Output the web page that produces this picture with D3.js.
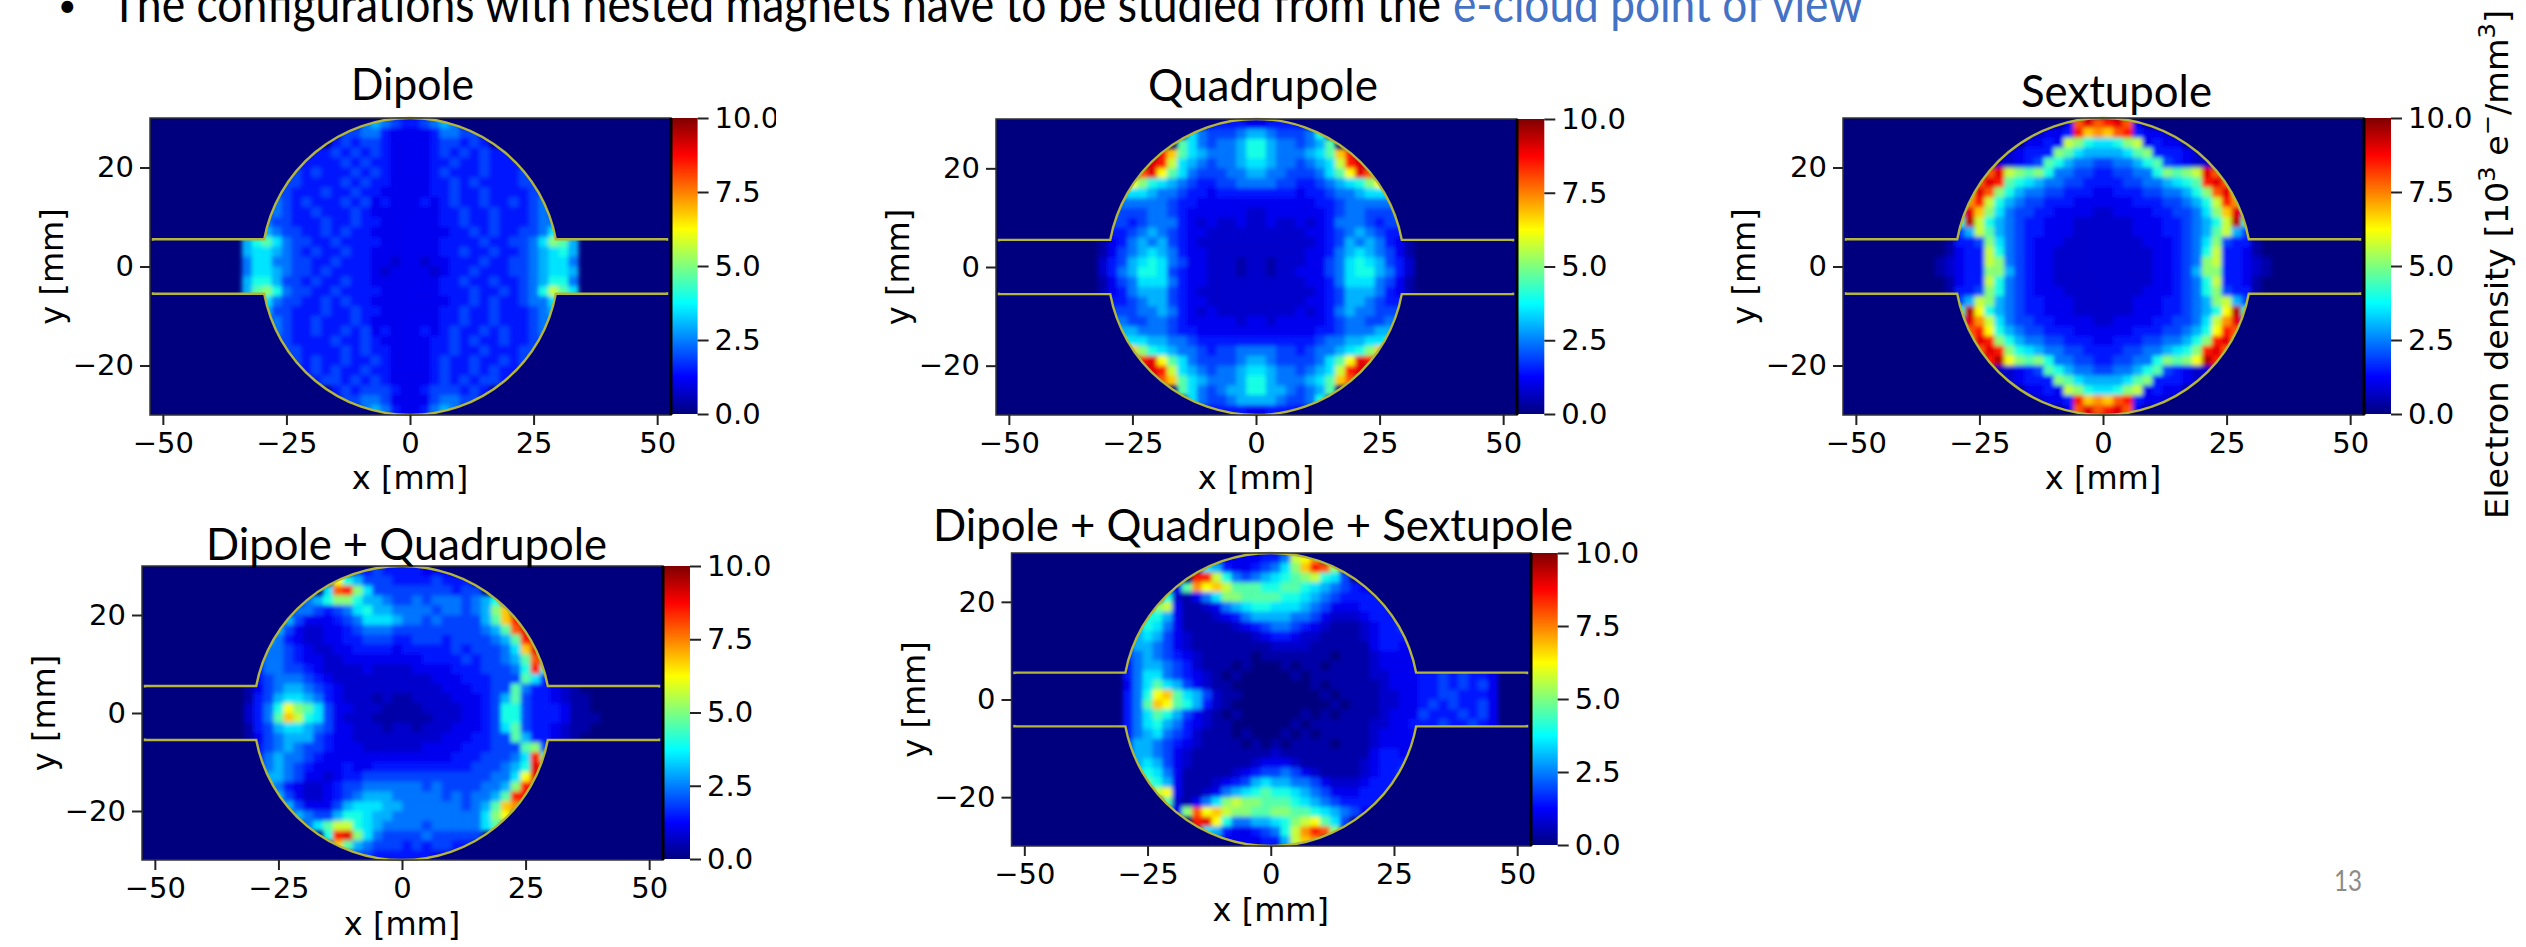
<!DOCTYPE html>
<html>
<head>
<meta charset="utf-8">
<script src="https://cdnjs.cloudflare.com/ajax/libs/d3/7.8.5/d3.min.js"></script>
<style>
  body { margin: 0; background: #fff; }
  svg { display: block; }
  .tick text { font-family: "DejaVu Sans"; font-size: 29px; fill: #000; }
  .tick line { stroke: #222; stroke-width: 2; }
  .axis-label { font-family: "DejaVu Sans"; font-size: 32px; fill: #000; }
  .slide { font-family: Lato; }
</style>
</head>
<body>
<svg id="slide" width="2526" height="947"></svg>
<script>
// density in 2 mm cells, one row per y from +29 to -29
// row = "neck left / left half up to x=-1 / right half from x=1 / neck right"
// each char is a position in densityLevels
const densityLevels = [0, 0.4, 0.75, 1.1, 1.5, 1.9, 2.4, 3.0, 3.5, 4.0, 4.6, 5.1, 5.7, 6.2, 6.8, 7.3, 7.9, 8.5, 9, 9.5, 10];
const levelChars = "0123456789abcdefghijk";

const dipoleRows = [
  "0 67654 45676 0", "0 5566433 3346655 0", "0 45455433 33455454 0", "0 4454545433 3345454544 0",
  "0 44445454433 33445445444 0", "0 545444545433 334544454445 0", "0 5544445454433 3344545444455 0",
  "0 55444544544333 33445445444455 0", "0 65454445453433 34345445445456 0", "0 565445444543333 333445445444565 0",
  "0 655444544544333 333445445444566 0", "0 765544545443333 333344545445568 0",
  "79 a86554454444333 33344445445568b a7", "78 876545445443333 333445445445678 97",
  "68 866554454443323 323344454455678 86", "68 876554544443233 332344544455678 87",
  "79 975545445443333 333445445445679 96", "7a b96554454444333 33344454454569c a8",
  "0 865544545443333 333344545445668 0", "0 755444544544333 333445445444567 0",
  "0 565445444543333 333445445444566 0", "0 65445445453433 34345445454456 0",
  "0 55444454454333 33445454454455 0", "0 5544445454433 3344544544455 0", "0 545445445433 334544544545 0",
  "0 45454454433 33454454544 0", "0 4554545433 3345454554 0", "0 45455543 34555454 0",
  "0 5566533 3356655 0", "0 67643 34676 0"
];
const quadrupoleRows = [
  "0 34443 34443 0", "0 8655567 7655569 0", "0 a8656679 9766567a 0", "0 hea8766679 9766678aeh 0",
  "0 ihc87656678 87665678chi 0", "0 gida86555667 76655568adig 0", "0 db98765445566 66554456789bd 0",
  "0 88876654434444 44443445667888 0", "0 66666544333333 33333344566666 0", "0 655566543333332 233333345665556 0",
  "0 554566643232232 232232346665455 0", "0 445676543322222 222223345676544 0",
  "1 346767543222222 222222345767643 1", "1 356787643322222 222223346787653 1",
  "2 457898653322212 212223356898754 2", "2 467998543322212 212233356899764 2",
  "1 356888643322222 222223346888653 1", "1 346777543222222 222222345777643 1",
  "0 445677543322222 222223345776544 0", "0 555667643232222 222232346766555 0",
  "0 665566543333323 323333345665566 0", "0 77666544333333 33333344566677 0",
  "0 98877665444444 44444456677889 0", "0 eb98766545566 66554566789be 0", "0 hida86555567 76555568adih 0",
  "0 ihc87656678 87665678chi 0", "0 gea8766679 9766678aeg 0", "0 a8656779 9776567a 0",
  "0 8655677 7765569 0", "0 34443 34443 0"
];
const sextupoleRows = [
  "0 3gig hig3 0", "0 2334hef egh4332 0", "0 3343cb98 89bc3433 0", "0 23444ba877 778ab44432 0",
  "0 22345a97665 56679a54322 0", "0 gicbab966554 455669babcig 0", "0 giha987665544 445566789ahig 0",
  "0 eigb9766554443 3444556679bgie 0", "0 fhc97655444333 33344455679chf 0", "0 5ieb86554433332 23333445568bei5 0",
  "0 9jc976544333222 222333445679cj9 0", "0 57ca76544333222 22233344567ac75 0",
  "1 445b86543332222 22223334568b544 1", "1 344c96543322222 22222334569c443 1",
  "12 344cb6543322222 2222233456bc443 21", "12 344bb7543322222 2222233457bb443 21",
  "1 344c96543322222 22222334569c443 1", "1 445b96543332222 22223334569b544 1",
  "0 57cb76544333222 22233344567bc75 0", "0 9jd976544333222 222333445679dj9 0",
  "0 5ifc86554433332 23333445568cfi5 0", "0 ghd97655444333 33344455679dhg 0",
  "0 fihb9766554443 3444556679bhif 0", "0 gihb987665544 445566789bhig 0", "0 hjdbab966554 455669babdjh 0",
  "0 22345a97665 56679a54322 0", "0 23444ba877 778ab44432 0", "0 3343cb98 89bc3433 0",
  "0 2334hef egh4332 0", "0 3gig hig3 0"
];
const dipoleQuadRows = [
  "0 44544 44333 0", "0 d975554 4445444 0", "0 8ghb8555 55555455 0", "0 679bb97765 5656665679 0",
  "0 66545689776 666566567be 0", "0 753334568887 665655557aeh 0", "0 7532233456665 5555555567agi 0",
  "0 76432233445554 45554555567ahh 0", "0 66543223344443 444445455568ei 0", "0 566543322333333 334444545567agj 0",
  "0 466554322223222 2333344455569h9 0", "0 456665432222222 222333444555a84 0",
  "1 356776543222222 22223334455a644 321", "1 457887643222121 12222333457a544 3211",
  "2 469dba853322211 112222334599544 4311", "2 46aec9853222111 111222334599544 43111",
  "1 457887653322212 21222333458a544 3211", "1 356777543322222 22223334455a744 321",
  "0 456765543332222 223333444555ab5 0", "0 467665433333333 3333344455568ha 0",
  "0 567654333433444 4444444555679ig 0", "0 77653323445555 555555555668di 0",
  "0 76432234556666 66565555667bhh 0", "0 7532234567776 6666565667ahh 0", "0 753335788877 666666567aef 0",
  "0 76557998776 666666668bd 0", "0 68acc98766 665666668a 0", "0 9hib8655 55655555 0",
  "0 ea76555 4545544 0", "0 55444 44433 0"
];
const dipoleQuadSextRows = [
  "0 33334 46cdf 0", "0 8743345 68behgb 0", "0 hhc96567 89abc985 0", "0 3afdecaaa9 9aa9876543 0",
  "0 921368bbaaa a9987654444 0", "0 bc3112367899 888765333444 0", "0 9973111234677 7766532223444 0",
  "0 79863111112345 66543211123445 0", "0 78753211111123 44322111123444 0", "0 477653211111111 222211111134433 0",
  "0 567654321111101 111111011123333 0", "0 467765421110100 010110111123333 0",
  "0 468865432101000 001011111122333 445454430", "0 368a87532110000 000010111112333 445454530",
  "0 469dea875211000 000001011112233 445544430", "0 46aeda974210000 000000101112233 454544530",
  "0 468a97532101000 000101011112333 544454530", "0 468976432110000 001011111122334 445445430",
  "0 467865421110100 010101111123333 0", "0 577654321111010 101111011123333 0",
  "0 577653211111111 211111111134433 0", "0 78753211111123 33211111123444 0",
  "0 89863111112345 56532111123445 0", "0 a973111234578 7766532223444 0", "0 cd311236789a 998765333444 0",
  "0 a21368bcbba aa987654444 0", "0 3bgdecbbaa bbaa987653 0", "0 hid96677 89bcda85 0",
  "0 8743345 69cfhgb 0", "0 33334 47cef 0"
];

const panelTitles = ["Dipole", "Quadrupole", "Sextupole", "Dipole + Quadrupole", "Dipole + Quadrupole + Sextupole"];
const panelRows = [dipoleRows, quadrupoleRows, sextupoleRows, dipoleQuadRows, dipoleQuadSextRows];

const xTicks = [-50, -25, 0, 25, 50];
const yTicks = [-20, 0, 20];
const colorTicks = [0, 2.5, 5, 7.5, 10];
const jetStops = ["#00007f", "#0000ff", "#007fff", "#00ffff", "#7fff7f", "#ffff00", "#ff7f00", "#ff0000", "#7f0000"];

// beam chamber shape in mm
const CHAMBER_RADIUS = 30;
const NECK_HALF = 5.5;
const PIPE_END = 52;
const CELL = 2;
const GRID_LEFT = -36;
const GRID_TOP = 30;

const X_DOMAIN = [-52.6, 52.8];
const Y_DOMAIN = [-30, 30];

// pixel frame of every panel
const layouts = [
  {x0: 150, x1: 671, cb: 697.6, top: 118, bottom: 415, ylabel: 63, title: [351, 474, 100], xlabel: 489},
  {x0: 996, x1: 1517, cb: 1544.3, top: 119, bottom: 415, ylabel: 909, title: [1148, 1378, 101], xlabel: 489},
  {x0: 1843, x1: 2364, cb: 2391, top: 118, bottom: 415, ylabel: 1755, title: [2021, 2212, 107], xlabel: 489},
  {x0: 142, x1: 663, cb: 690, top: 566, bottom: 860, ylabel: 55, title: [206, 607, 560], xlabel: 935},
  {x0: 1011.5, x1: 1531, cb: 1557.7, top: 553, bottom: 846, ylabel: 925, title: [933, 1573, 541], xlabel: 921}
];

const svg = d3.select("#slide");
const jet = d3.scaleSequential(d3.piecewise(d3.interpolateRgb, jetStops)).domain([0, 10]);
const defs = svg.append("defs");

const gradient = defs.append("linearGradient")
  .attr("id", "jet").attr("x1", 0).attr("x2", 0).attr("y1", 1).attr("y2", 0);
jetStops.forEach((c, i) => {
  gradient.append("stop").attr("offset", i / (jetStops.length - 1)).attr("stop-color", c);
});

defs.append("filter").attr("id", "soften")
  .attr("x", "-5%").attr("y", "-5%").attr("width", "110%").attr("height", "110%")
  .append("feGaussianBlur").attr("stdDeviation", 2);

function parseRow(row) {
  const [a, b, c, d] = row.split(" ");
  const all = a.padStart(3, "0") + b.padStart(15, "0") + c.padEnd(15, "0") + d.padEnd(9, "0");
  return Array.from(all, ch => densityLevels[levelChars.indexOf(ch)]);
}

function chamberPath(x, y) {
  const rx = x(CHAMBER_RADIUS) - x(0);
  const ry = y(0) - y(CHAMBER_RADIUS);
  const neckX = Math.sqrt(CHAMBER_RADIUS * CHAMBER_RADIUS - NECK_HALF * NECK_HALF);
  return `M${x(-PIPE_END)},${y(NECK_HALF)}L${x(-neckX)},${y(NECK_HALF)}` +
    `A${rx},${ry} 0 0 1 ${x(neckX)},${y(NECK_HALF)}L${x(PIPE_END)},${y(NECK_HALF)}` +
    `L${x(PIPE_END)},${y(-NECK_HALF)}L${x(neckX)},${y(-NECK_HALF)}` +
    `A${rx},${ry} 0 0 1 ${x(-neckX)},${y(-NECK_HALF)}L${x(-PIPE_END)},${y(-NECK_HALF)}Z`;
}

function drawPanel(i) {
  const box = layouts[i];
  const x = d3.scaleLinear().domain(X_DOMAIN).range([box.x0, box.x1]);
  const y = d3.scaleLinear().domain(Y_DOMAIN).range([box.bottom, box.top]);
  const c = d3.scaleLinear().domain([0, 10]).range([box.bottom - 1, box.top]);
  const g = svg.append("g");

  g.append("rect")
    .attr("x", box.x0).attr("y", box.top)
    .attr("width", box.x1 - box.x0).attr("height", box.bottom - box.top)
    .attr("fill", "#00007f");

  const outline = chamberPath(x, y);
  defs.append("clipPath").attr("id", `chamber${i}`).append("path").attr("d", outline);

  const cells = [];
  panelRows[i].forEach((row, r) => {
    parseRow(row).forEach((v, k) => {
      if (v > 0) cells.push({col: k, row: r, value: v});
    });
  });

  g.append("g").attr("clip-path", `url(#chamber${i})`)
    .append("g").attr("filter", "url(#soften)")
    .selectAll("rect")
    .data(cells)
    .join("rect")
    .attr("x", d => x(GRID_LEFT + d.col * CELL))
    .attr("y", d => y(GRID_TOP - d.row * CELL))
    .attr("width", x(CELL) - x(0) + 0.5)
    .attr("height", y(0) - y(CELL) + 0.5)
    .attr("fill", d => jet(d.value));

  g.append("path").attr("d", outline)
    .attr("fill", "none").attr("stroke", "#b4b63a").attr("stroke-width", 2.4);

  // mask the closing edges of the pipe, the chamber is open there
  g.append("g").selectAll("rect")
    .data([-PIPE_END, PIPE_END])
    .join("rect")
    .attr("x", d => x(d) - 2).attr("width", 4)
    .attr("y", y(NECK_HALF) + 1.5).attr("height", y(-NECK_HALF) - y(NECK_HALF) - 3)
    .attr("fill", "#00007f");

  g.append("rect")
    .attr("x", box.x0).attr("y", box.top)
    .attr("width", box.x1 - box.x0).attr("height", box.bottom - box.top)
    .attr("fill", "none").attr("stroke", "#333").attr("stroke-width", 1.5);

  g.append("rect")
    .attr("x", box.x1).attr("y", box.top)
    .attr("width", box.cb - box.x1).attr("height", box.bottom - box.top - 1)
    .attr("fill", "url(#jet)");
  g.append("rect")
    .attr("x", box.x1 - 1.5).attr("y", box.top)
    .attr("width", 3).attr("height", box.bottom - box.top)
    .attr("fill", "#000");

  const xAxis = d3.axisBottom(x).tickValues(xTicks).tickFormat(d3.format("d")).tickSize(10).tickPadding(7);
  const yAxis = d3.axisLeft(y).tickValues(yTicks).tickFormat(d3.format("d")).tickSize(10).tickPadding(6);
  const cAxis = d3.axisRight(c).tickValues(colorTicks).tickFormat(d3.format(".1f")).tickSize(11).tickPadding(6);

  g.append("g").attr("transform", `translate(0,${box.bottom})`).call(xAxis).call(a => a.select(".domain").remove());
  g.append("g").attr("transform", `translate(${box.x0},0)`).call(yAxis).call(a => a.select(".domain").remove());
  g.append("g").attr("transform", `translate(${box.cb},0)`).call(cAxis).call(a => a.select(".domain").remove());

  g.append("text").attr("class", "axis-label")
    .attr("x", x(0)).attr("y", box.xlabel).attr("text-anchor", "middle")
    .text("x [mm]");
  g.append("text").attr("class", "axis-label")
    .attr("transform", `translate(${box.ylabel},${y(0)}) rotate(-90)`)
    .attr("text-anchor", "middle")
    .text("y [mm]");

  g.append("text").attr("class", "slide")
    .attr("x", box.title[0]).attr("y", box.title[2])
    .attr("font-size", 45)
    .attr("textLength", box.title[1] - box.title[0]).attr("lengthAdjust", "spacingAndGlyphs")
    .text(panelTitles[i]);
}

panelTitles.forEach((t, i) => drawPanel(i));

// the first colorbar label is cut off in the slide
svg.append("rect").attr("x", 776).attr("y", 100).attr("width", 14).attr("height", 40).attr("fill", "#fff");

const label = svg.append("text").attr("class", "axis-label")
  .attr("transform", "translate(2508,519) rotate(-90)")
  .attr("textLength", 509).attr("lengthAdjust", "spacingAndGlyphs");
label.append("tspan").text("Electron density [10");
label.append("tspan").attr("dy", -13).attr("font-size", 23).text("3");
label.append("tspan").attr("dy", 13).text(" e");
label.append("tspan").attr("dy", -13).attr("font-size", 23).text("\u2212");
label.append("tspan").attr("dy", 13).text("/mm");
label.append("tspan").attr("dy", -13).attr("font-size", 23).text("3");
label.append("tspan").attr("dy", 13).text("]");

svg.append("text").attr("class", "slide").attr("x", 58).attr("y", 17).attr("font-size", 32).text("\u2022");
svg.append("text").attr("class", "slide").attr("x", 111).attr("y", 22).attr("font-size", 50)
  .attr("textLength", 1330).attr("lengthAdjust", "spacingAndGlyphs")
  .text("The configurations with nested magnets have to be studied from the");
svg.append("text").attr("class", "slide").attr("x", 1453).attr("y", 22).attr("font-size", 50)
  .attr("fill", "#4472c4")
  .attr("textLength", 410).attr("lengthAdjust", "spacingAndGlyphs")
  .text("e-cloud point of view");

svg.append("text").attr("class", "slide").attr("x", 2334).attr("y", 891).attr("font-size", 29)
  .attr("fill", "#8b8b8b")
  .attr("textLength", 28).attr("lengthAdjust", "spacingAndGlyphs")
  .text("13");
</script>
</body>
</html>
